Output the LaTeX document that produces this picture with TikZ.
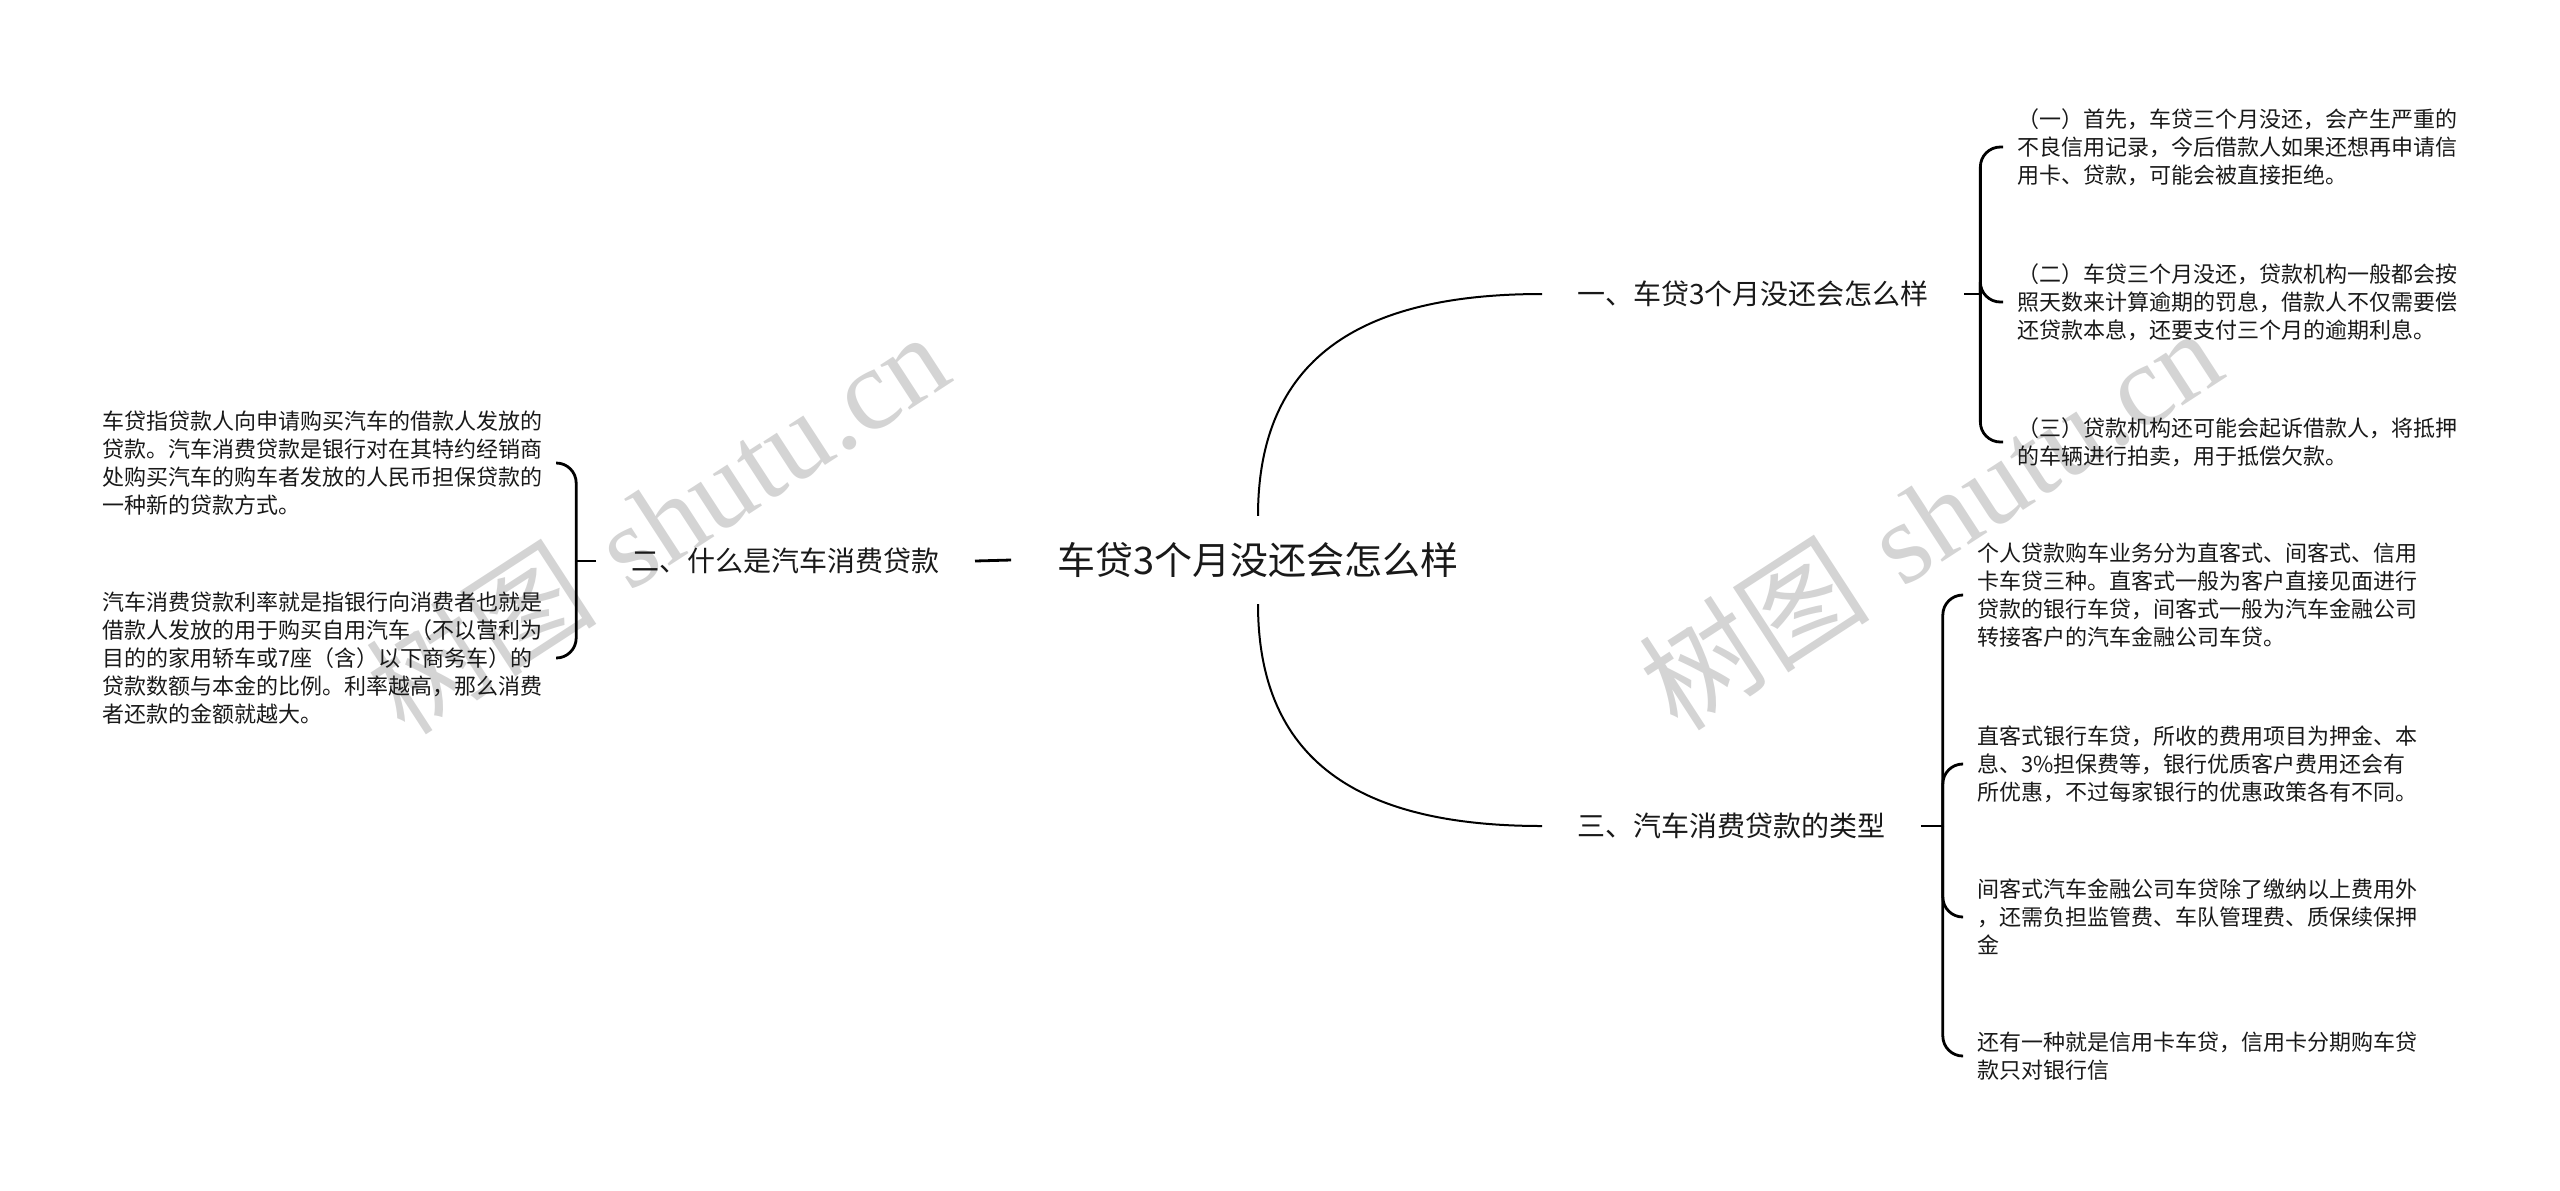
\documentclass[tikz,border=0pt]{standalone}
\usepackage{fontspec}
\newfontfamily\cjk{Noto Sans CJK SC}
\newfontfamily\wmserif{Liberation Serif}

\tikzset{
  rootnode/.style = {font=\cjk\fontsize{19pt}{23pt}\selectfont, text=black!90,
    inner xsep=23pt, inner ysep=13pt},
  branch/.style = {font=\cjk\fontsize{14pt}{17pt}\selectfont, text=black!90,
    inner xsep=17.5pt, inner ysep=6pt},
  leaf/.style = {font=\cjk\fontsize{11pt}{14pt}\selectfont, text=black!90,
    align=left, inner xsep=7pt, inner ysep=4pt},
  link/.style = {line width=1pt},
  tick/.style = {line width=1.4pt},
  brace/.style = {line width=1.4pt, rounded corners=10pt},
  wmark/.style = {text=black!17, rotate=33, font=\fontsize{58pt}{66pt}\selectfont}
}

\begin{document}
\begin{tikzpicture}[x=0.5pt, y=-0.5pt]
  \useasboundingbox (0,0) rectangle (2560,1190);

  \node[wmark] (wm1) at (657,522) {{\cjk 树图} {\wmserif shutu.cn}};
  \node[wmark] (wm2) at (1930,518) {{\cjk 树图} {\wmserif shutu.cn}};

  \node[rootnode] (root) at (1258,560) {车贷3个月没还会怎么样};
  \node[branch, anchor=west] (one) at (1542,294) {一、车贷3个月没还会怎么样};
  \node[branch, anchor=east] (two) at (975,561) {二、什么是汽车消费贷款};
  \node[branch, anchor=west] (three) at (1542,826) {三、汽车消费贷款的类型};

  \draw[link] (root.north) .. controls +(0,-165) and +(-172,0) .. (one.west);
  \draw[link] (root.south) .. controls +(0,165) and +(-172,0) .. (three.west);
  \draw[tick] (root.west) -- (two.east);

  \node[leaf, anchor=west] (oneA) at (2003,147)
    {（一）首先，车贷三个月没还，会产生严重的\\不良信用记录，今后借款人如果还想再申请信\\用卡、贷款，可能会被直接拒绝。};
  \node[leaf, anchor=west] (oneB) at (2003,302)
    {（二）车贷三个月没还，贷款机构一般都会按\\照天数来计算逾期的罚息，借款人不仅需要偿\\还贷款本息，还要支付三个月的逾期利息。};
  \node[leaf, anchor=west] (oneC) at (2003,442)
    {（三）贷款机构还可能会起诉借款人，将抵押\\的车辆进行拍卖，用于抵偿欠款。};

  \draw[tick] (one.east) -- ++(16,0) coordinate (c1);
  \foreach \leafname in {oneA, oneB, oneC}
    \draw[brace] (c1) |- (\leafname.west);

  \node[leaf, anchor=east] (twoA) at (557,463)
    {车贷指贷款人向申请购买汽车的借款人发放的\\贷款。汽车消费贷款是银行对在其特约经销商\\处购买汽车的购车者发放的人民币担保贷款的\\一种新的贷款方式。};
  \node[leaf, anchor=east] (twoB) at (557,658)
    {汽车消费贷款利率就是指银行向消费者也就是\\借款人发放的用于购买自用汽车（不以营利为\\目的的家用轿车或7座（含）以下商务车）的\\贷款数额与本金的比例。利率越高，那么消费\\者还款的金额就越大。};

  \draw[tick] (two.west) -- ++(-20,0) coordinate (c2);
  \foreach \leafname in {twoA, twoB}
    \draw[brace] (c2) |- (\leafname.east);

  \node[leaf, anchor=west] (threeA) at (1963,595)
    {个人贷款购车业务分为直客式、间客式、信用\\卡车贷三种。直客式一般为客户直接见面进行\\贷款的银行车贷，间客式一般为汽车金融公司\\转接客户的汽车金融公司车贷。};
  \node[leaf, anchor=west] (threeB) at (1963,764)
    {直客式银行车贷，所收的费用项目为押金、本\\息、3\%担保费等，银行优质客户费用还会有\\所优惠，不过每家银行的优惠政策各有不同。};
  \node[leaf, anchor=west] (threeC) at (1963,917)
    {间客式汽车金融公司车贷除了缴纳以上费用外\\，还需负担监管费、车队管理费、质保续保押\\金};
  \node[leaf, anchor=west] (threeD) at (1963,1056)
    {还有一种就是信用卡车贷，信用卡分期购车贷\\款只对银行信};

  \draw[tick] (three.east) -- ++(22,0) coordinate (c3);
  \foreach \leafname in {threeA, threeB, threeC, threeD}
    \draw[brace] (c3) |- (\leafname.west);

\end{tikzpicture}
\end{document}
